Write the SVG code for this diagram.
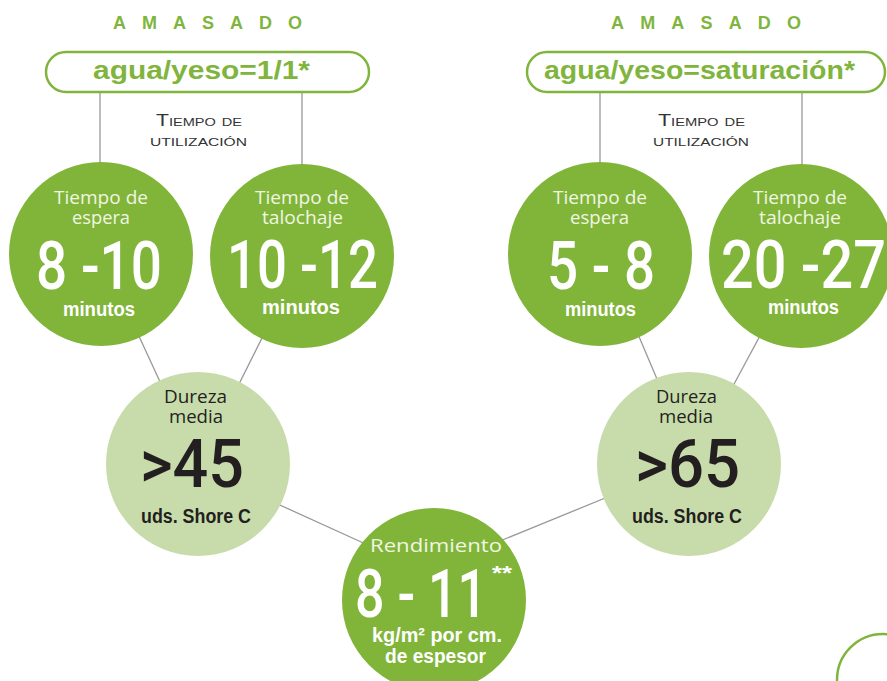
<svg xmlns="http://www.w3.org/2000/svg" width="887" height="681" viewBox="0 0 887 681">
<style>
.amas{font-family:"Liberation Sans",Arial,sans-serif;font-weight:bold;font-size:18px;fill:#80b53d}
.pill{fill:#fff;stroke:#80b53d;stroke-width:2.5}
.pt{font-family:"Liberation Sans",Arial,sans-serif;font-weight:bold;font-size:26px;fill:#80b53d}
.tu{font-family:"Liberation Sans",Arial,sans-serif;font-size:16px;font-variant:small-caps;fill:#333}
.g{fill:#80b53a}
.lg{fill:#c8dcab}
.lt{font-family:"Open Sans","Liberation Sans",sans-serif;font-weight:400;font-size:18px;fill:#f1f5e2}
.big{font-family:Roboto,"Liberation Sans",sans-serif;font-weight:500;font-size:66px;fill:#fff}
.bigd{font-family:Roboto,"Liberation Sans",sans-serif;font-weight:500;font-size:66px;fill:#231f20}
.min{font-family:"Liberation Sans",Arial,sans-serif;font-weight:bold;font-size:20px;fill:#fff}
.dt{font-family:"Open Sans","Liberation Sans",sans-serif;font-size:18px;fill:#231f20}
.ds{font-family:"Liberation Sans",Arial,sans-serif;font-weight:bold;font-size:20px;fill:#231f20}
.ln{stroke:#999;stroke-width:1.3;fill:none}
</style>
<rect width="887" height="681" fill="#fff"/>
<g id="connectors">
<line class="ln" x1="100" y1="92" x2="100" y2="170"/>
<line class="ln" x1="302" y1="92" x2="302" y2="170"/>
<line class="ln" x1="600" y1="92" x2="600" y2="170"/>
<line class="ln" x1="802" y1="92" x2="802" y2="170"/>
<line class="ln" x1="101" y1="254" x2="198" y2="464"/>
<line class="ln" x1="303" y1="256" x2="199" y2="464"/>
<line class="ln" x1="604" y1="254" x2="693" y2="464"/>
<line class="ln" x1="803" y1="256" x2="691" y2="464"/>
<line class="ln" x1="260" y1="496" x2="370" y2="546"/>
<line class="ln" x1="500" y1="541" x2="615" y2="494"/>
</g>
<g id="header-left">
<text class="amas" x="113" y="29" textLength="189" lengthAdjust="spacing">AMASADO</text>
<rect class="pill" x="46" y="52" width="323" height="40" rx="20"/>
<text class="pt" x="93" y="79" textLength="217" lengthAdjust="spacingAndGlyphs">agua/yeso=1/1*</text>
<text class="tu" x="156" y="126" textLength="86" lengthAdjust="spacingAndGlyphs">Tiempo de</text>
<text class="tu" x="150" y="146" textLength="97" lengthAdjust="spacingAndGlyphs">utilización</text>
</g>
<g id="header-right">
<text class="amas" x="611" y="29" textLength="190" lengthAdjust="spacing">AMASADO</text>
<rect class="pill" x="527" y="52" width="358" height="40" rx="20"/>
<text class="pt" x="544" y="79" textLength="311" lengthAdjust="spacingAndGlyphs">agua/yeso=saturación*</text>
<text class="tu" x="658" y="126" textLength="87" lengthAdjust="spacingAndGlyphs">Tiempo de</text>
<text class="tu" x="653" y="146" textLength="96" lengthAdjust="spacingAndGlyphs">utilización</text>
</g>
<g id="espera-left">
<circle class="g" cx="101" cy="254" r="92"/>
<text class="lt" x="54" y="204" textLength="94" lengthAdjust="spacingAndGlyphs">Tiempo de</text>
<text class="lt" x="72" y="224" textLength="58" lengthAdjust="spacingAndGlyphs">espera</text>
<text class="big" x="36" y="289" textLength="126" lengthAdjust="spacingAndGlyphs">8 -10</text>
<text class="min" x="63" y="316" textLength="72" lengthAdjust="spacingAndGlyphs">minutos</text>
</g>
<g id="talochaje-left">
<circle class="g" cx="302" cy="256" r="92"/>
<text class="lt" x="255" y="204" textLength="94" lengthAdjust="spacingAndGlyphs">Tiempo de</text>
<text class="lt" x="262" y="224" textLength="81" lengthAdjust="spacingAndGlyphs">talochaje</text>
<text class="big" x="227" y="288" textLength="151" lengthAdjust="spacingAndGlyphs">10 -12</text>
<text class="min" x="262" y="314" textLength="78" lengthAdjust="spacingAndGlyphs">minutos</text>
</g>
<g id="espera-right">
<circle class="g" cx="600" cy="254" r="92"/>
<text class="lt" x="553" y="204" textLength="94" lengthAdjust="spacingAndGlyphs">Tiempo de</text>
<text class="lt" x="570" y="224" textLength="59" lengthAdjust="spacingAndGlyphs">espera</text>
<text class="big" x="547" y="289" textLength="108" lengthAdjust="spacingAndGlyphs">5 - 8</text>
<text class="min" x="565" y="316" textLength="71" lengthAdjust="spacingAndGlyphs">minutos</text>
</g>
<g id="talochaje-right">
<circle class="g" cx="801" cy="256" r="92"/>
<text class="lt" x="753" y="204" textLength="94" lengthAdjust="spacingAndGlyphs">Tiempo de</text>
<text class="lt" x="759" y="224" textLength="82" lengthAdjust="spacingAndGlyphs">talochaje</text>
<text class="big" x="721" y="288" textLength="165" lengthAdjust="spacingAndGlyphs">20 -27</text>
<text class="min" x="768" y="314" textLength="71" lengthAdjust="spacingAndGlyphs">minutos</text>
</g>
<g id="dureza-left">
<circle class="lg" cx="198" cy="464" r="92"/>
<text class="dt" x="164" y="403" textLength="63" lengthAdjust="spacingAndGlyphs">Dureza</text>
<text class="dt" x="169" y="423" textLength="54" lengthAdjust="spacingAndGlyphs">media</text>
<text class="bigd" x="140" y="487" textLength="104" lengthAdjust="spacingAndGlyphs">&gt;45</text>
<text class="ds" x="141" y="523" textLength="110" lengthAdjust="spacingAndGlyphs">uds. Shore C</text>
</g>
<g id="dureza-right">
<circle class="lg" cx="689" cy="464" r="92"/>
<text class="dt" x="656" y="403" textLength="61" lengthAdjust="spacingAndGlyphs">Dureza</text>
<text class="dt" x="659" y="423" textLength="54" lengthAdjust="spacingAndGlyphs">media</text>
<text class="bigd" x="635" y="487" textLength="105" lengthAdjust="spacingAndGlyphs">&gt;65</text>
<text class="ds" x="632" y="523" textLength="110" lengthAdjust="spacingAndGlyphs">uds. Shore C</text>
</g>
<g id="rendimiento">
<circle class="g" cx="434" cy="600" r="92"/>
<text class="lt" x="370" y="552" font-size="21" textLength="132" lengthAdjust="spacingAndGlyphs">Rendimiento</text>
<text class="big" x="355" y="617" font-size="72" textLength="132" lengthAdjust="spacingAndGlyphs">8 - 11</text>
<text class="min" x="492" y="580" font-size="22" textLength="20" lengthAdjust="spacingAndGlyphs">**</text>
<text class="min" x="372" y="642" font-size="19" textLength="130" lengthAdjust="spacingAndGlyphs">kg/m² por cm.</text>
<text class="min" x="385" y="663" font-size="19" textLength="101" lengthAdjust="spacingAndGlyphs">de espesor</text>
</g>
<g id="corner-arc">
<circle cx="883" cy="680" r="46" fill="none" stroke="#80b53d" stroke-width="2.5"/>
</g>
</svg>
